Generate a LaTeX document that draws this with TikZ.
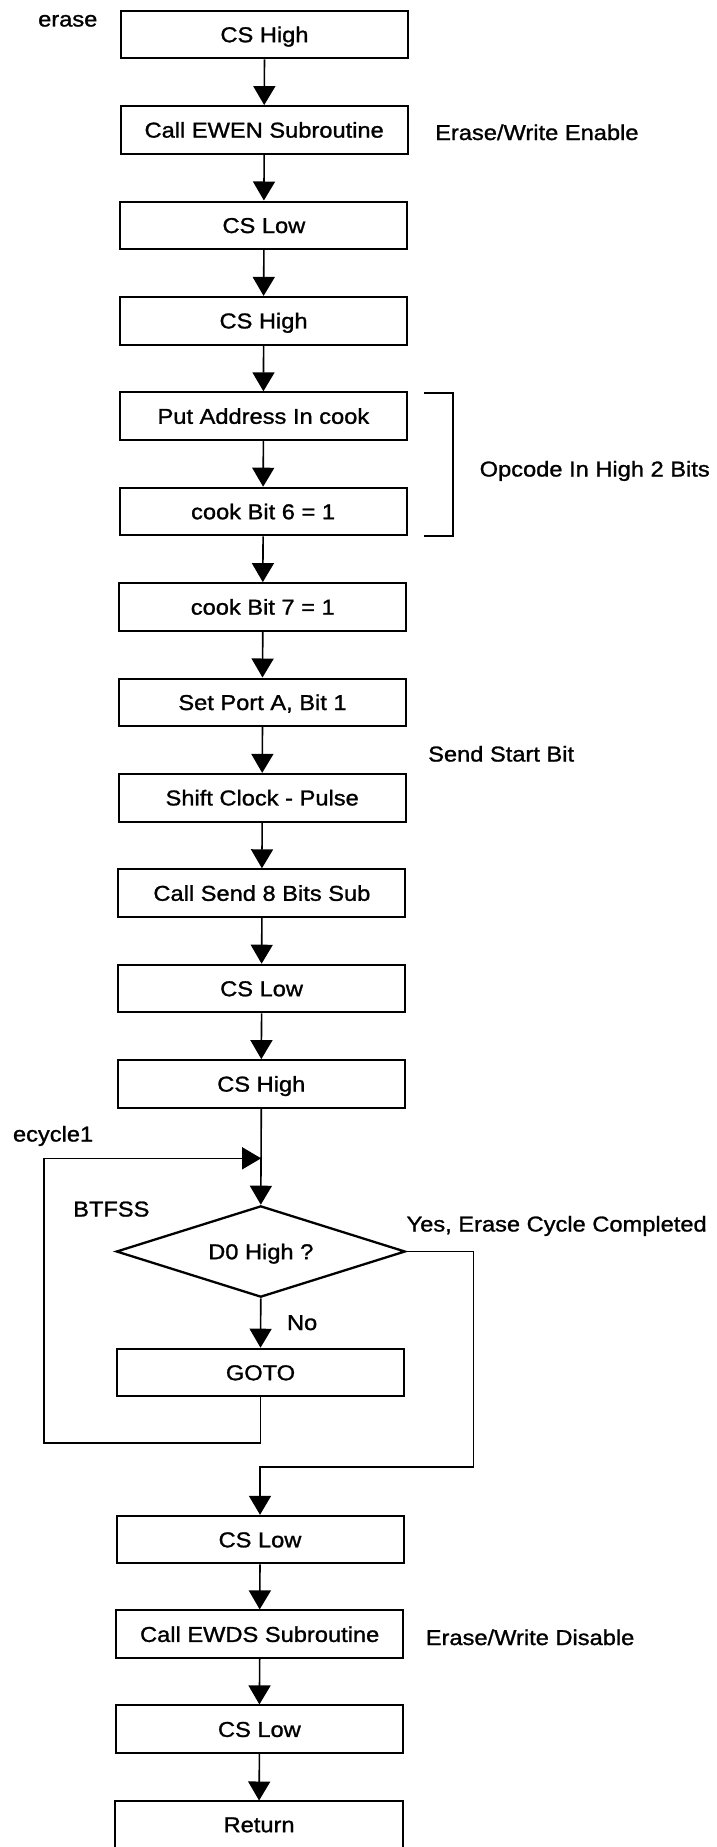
\documentclass[tikz,border=0pt]{standalone}
\usepackage{fontspec}
\setmainfont{Liberation Sans}
\newfontfamily\flowfont{Liberation Sans}[FakeStretch=1.1,FakeBold=1.2]
\usetikzlibrary{arrows.meta,shapes.geometric}
\begin{document}
\begin{tikzpicture}[x=1pt,y=-1pt,
  txt/.style={font=\flowfont\fontsize{21.5}{24}\selectfont},
  boxed/.style={txt,text height=15.4pt,text depth=0pt,inner sep=0pt},
  stepbox/.style={draw,boxed,line width=2pt,minimum width=287pt,minimum height=47.6pt},
  openbox/.style={boxed,minimum width=287pt,minimum height=47.6pt},
  decision/.style={draw,boxed,diamond,aspect=3.2,line width=2.3pt,minimum width=289pt,minimum height=91.3pt},
  wire/.style={line width=1.6pt},
  flow/.style={wire,-{Triangle[width=22pt,length=19pt]}},
  note/.style={txt,anchor=base west,inner sep=0pt}]
\useasboundingbox (0,0) rectangle (716,1847);
\clip (0,0) rectangle (716,1847);

% process steps
\node[stepbox] (n1)  at (264.5,34.5)   {CS High};
\node[stepbox] (n2)  at (264.2,129.9)  {Call EWEN Subroutine};
\node[stepbox] (n3)  at (263.9,225.3)  {CS Low};
\node[stepbox] (n4)  at (263.6,320.7)  {CS High};
\node[stepbox] (n5)  at (263.4,416.1)  {Put Address In cook};
\node[stepbox] (n6)  at (263.1,511.5)  {cook Bit 6 = 1};
\node[stepbox] (n7)  at (262.8,606.9)  {cook Bit 7 = 1};
\node[stepbox] (n8)  at (262.5,702.3)  {Set Port A, Bit 1};
\node[stepbox] (n9)  at (262.2,797.7)  {Shift Clock - Pulse};
\node[stepbox] (n10) at (261.9,893.1)  {Call Send 8 Bits Sub};
\node[stepbox] (n11) at (261.6,988.5)  {CS Low};
\node[stepbox] (n12) at (261.3,1083.9) {CS High};
\node[decision] (dec) at (260.8,1251.5) {D0 High ?};
\node[stepbox] (n13) at (260.5,1372.5) {GOTO};
\node[stepbox] (n14) at (260.0,1539.6) {CS Low};
\node[stepbox] (n15) at (259.7,1634.2) {Call EWDS Subroutine};
\node[stepbox] (n16) at (259.4,1729.2) {CS Low};
\node[openbox] (n17) at (259.1,1824.5) {Return};
% the last box runs off the bottom edge
\draw[line width=2pt] ([yshift=-30pt]n17.south west) -- (n17.north west)
  -- (n17.north east) -- ([yshift=-30pt]n17.south east);

% straight-line flow
\foreach \a/\b in {n1/n2,n2/n3,n3/n4,n4/n5,n5/n6,n6/n7,n7/n8,n8/n9,n9/n10,n10/n11,n11/n12,n12/dec,dec/n13,n14/n15,n15/n16,n16/n17}
  \draw[flow] (\a.south) -- (\b.north);

% polling loop back to ecycle1
\coordinate (jn) at (261.1,1158.3);
\coordinate (loopA) at (43.8,1442.7);
\draw[flow] (n13.south) |- (loopA) |- (jn);

% exit when the erase cycle is done
\coordinate (yesA) at (473.5,1466.7);
\draw[flow] (dec.east) -| (yesA) -| (n14.north);

% bracket grouping the opcode steps
\draw[wire] (424,392.7) -- (453,392.7) -- (453,536) -- (424,536);

% labels
\node[note] (lerase) at (38,26.5)     {erase};
\node[note] (lewen)  at (435,140)     {Erase/Write Enable};
\node[note] (lop)    at (479.5,476.5) {Opcode In High 2 Bits};
\node[note] (lsend)  at (428,761.5)   {Send Start Bit};
\node[note] (lecyc)  at (12.8,1141.5) {ecycle1};
\node[note] (lbt)    at (73,1216.5)   {BTFSS};
\node[note] (lyes)   at (406.4,1231.5) {Yes, Erase Cycle Completed};
\node[note] (lno)    at (286.8,1330)  {No};
\node[note] (lewds)  at (425.6,1645)  {Erase/Write Disable};
\end{tikzpicture}
\end{document}
